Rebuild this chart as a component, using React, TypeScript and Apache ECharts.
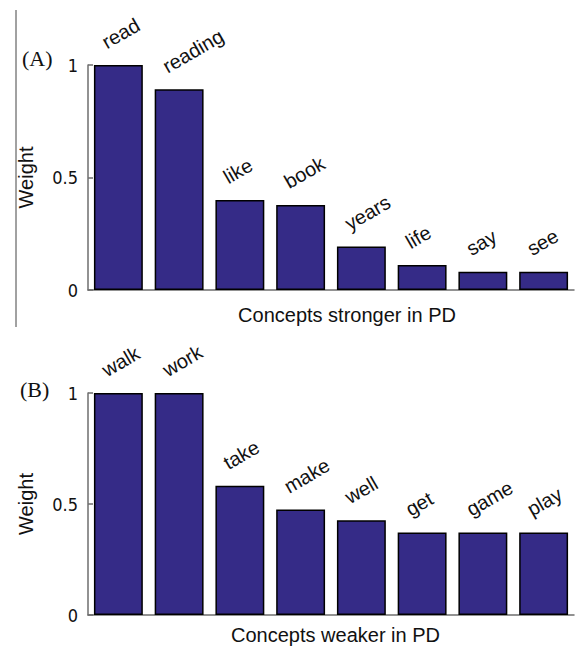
import React, { useEffect, useRef } from "react";
import * as echarts from "echarts";

const catsA = ["read", "reading", "like", "book", "years", "life", "say", "see"];
const valsA = [1.0, 0.892, 0.4, 0.378, 0.193, 0.111, 0.081, 0.081];
const catsB = ["walk", "work", "take", "make", "well", "get", "game", "play"];
const valsB = [1.0, 1.0, 0.582, 0.475, 0.427, 0.372, 0.372, 0.372];
const yTicks = [0, 0.5, 1];
const panelTags = ["(A)", "(B)"];
const xNames = ["Concepts stronger in PD", "Concepts weaker in PD"];
const yName = "Weight";

const BAR = "#352b87";
const AXIS = "#6e6e6e";

export default function App() {
  const ref = useRef<HTMLDivElement>(null);
  useEffect(() => {
    if (!ref.current) return;
    const chart = echarts.init(ref.current, null, { renderer: "svg" });
    const grids = [
      { left: 88, top: 65, width: 486, height: 225 },
      { left: 88, top: 393, width: 486, height: 222 },
    ];
    const baseGraphic: any[] = [
      {
        type: "line",
        shape: { x1: 16, y1: 10, x2: 16, y2: 327 },
        style: { stroke: "#444", lineWidth: 1 },
      },
      {
        type: "text",
        left: 22,
        top: 47,
        style: { text: panelTags[0], font: "22px Liberation Serif, serif", fill: "#111" },
      },
      {
        type: "text",
        left: 20,
        top: 378,
        style: { text: panelTags[1], font: "22px Liberation Serif, serif", fill: "#111" },
      },
    ];
    const option: any = {
      animation: false,
      backgroundColor: "#fff",
      grid: grids,
      xAxis: [catsA, catsB].map((cats, i) => ({
        type: "category",
        gridIndex: i,
        data: cats,
        boundaryGap: true,
        axisTick: { show: false },
        axisLabel: { show: false },
        axisLine: { lineStyle: { color: AXIS, width: 1.5 } },
        name: xNames[i],
        nameLocation: "middle",
        nameGap: i === 0 ? 15 : 10,
        nameTextStyle: {
          fontFamily: "Liberation Sans, Arial, sans-serif",
          fontSize: 20,
          color: "#111",
          verticalAlign: "top",
          padding: i === 0 ? [0, 0, 0, 32] : [0, 0, 0, 9],
        },
      })),
      yAxis: [0, 1].map((i) => ({
        type: "value",
        gridIndex: i,
        min: yTicks[0],
        max: yTicks[yTicks.length - 1],
        interval: yTicks[1] - yTicks[0],
        splitLine: { show: false },
        axisLine: { show: true, lineStyle: { color: AXIS, width: 1.5 } },
        axisTick: { show: true, inside: true, length: 5, lineStyle: { color: AXIS, width: 1.5 } },
        axisLabel: {
          margin: 10,
          color: "#111",
          fontFamily: "DejaVu Sans Condensed, DejaVu Sans, sans-serif",
          fontSize: 18,
        },
        name: yName,
        nameLocation: "middle",
        nameGap: 52,
        nameTextStyle: {
          fontFamily: "Liberation Sans, Arial, sans-serif",
          fontSize: 20,
          color: "#111",
        },
      })),
      series: [valsA, valsB].map((vals, i) => ({
        type: "bar",
        xAxisIndex: i,
        yAxisIndex: i,
        data: vals,
        barCategoryGap: "19.5%",
        itemStyle: { color: BAR, borderColor: "#000", borderWidth: 1.5 },
      })),
      graphic: baseGraphic,
    };
    chart.setOption(option);

    // Rotated word labels placed above each bar through the grid's scales
    const labels: any[] = [];
    [
      [catsA, valsA],
      [catsB, valsB],
    ].forEach(([cats, vals]: any, gi) => {
      cats.forEach((c: string, k: number) => {
        const p = chart.convertToPixel({ gridIndex: gi }, [c, vals[k]]) as number[];
        labels.push({
          type: "text",
          x: p[0] - 10,
          y: p[1] - 13,
          rotation: Math.PI / 6,
          style: {
            text: c,
            x: 0,
            y: 0,
            align: "left",
            verticalAlign: "bottom",
            font: "20px Liberation Sans, Arial, sans-serif",
            fill: "#111",
          },
        });
      });
    });
    chart.setOption({ graphic: baseGraphic.concat(labels) });
    return () => chart.dispose();
  }, []);
  return (
    <div
      ref={ref}
      style={{ position: "fixed", left: 0, top: 0, width: 575, height: 648 }}
    />
  );
}
